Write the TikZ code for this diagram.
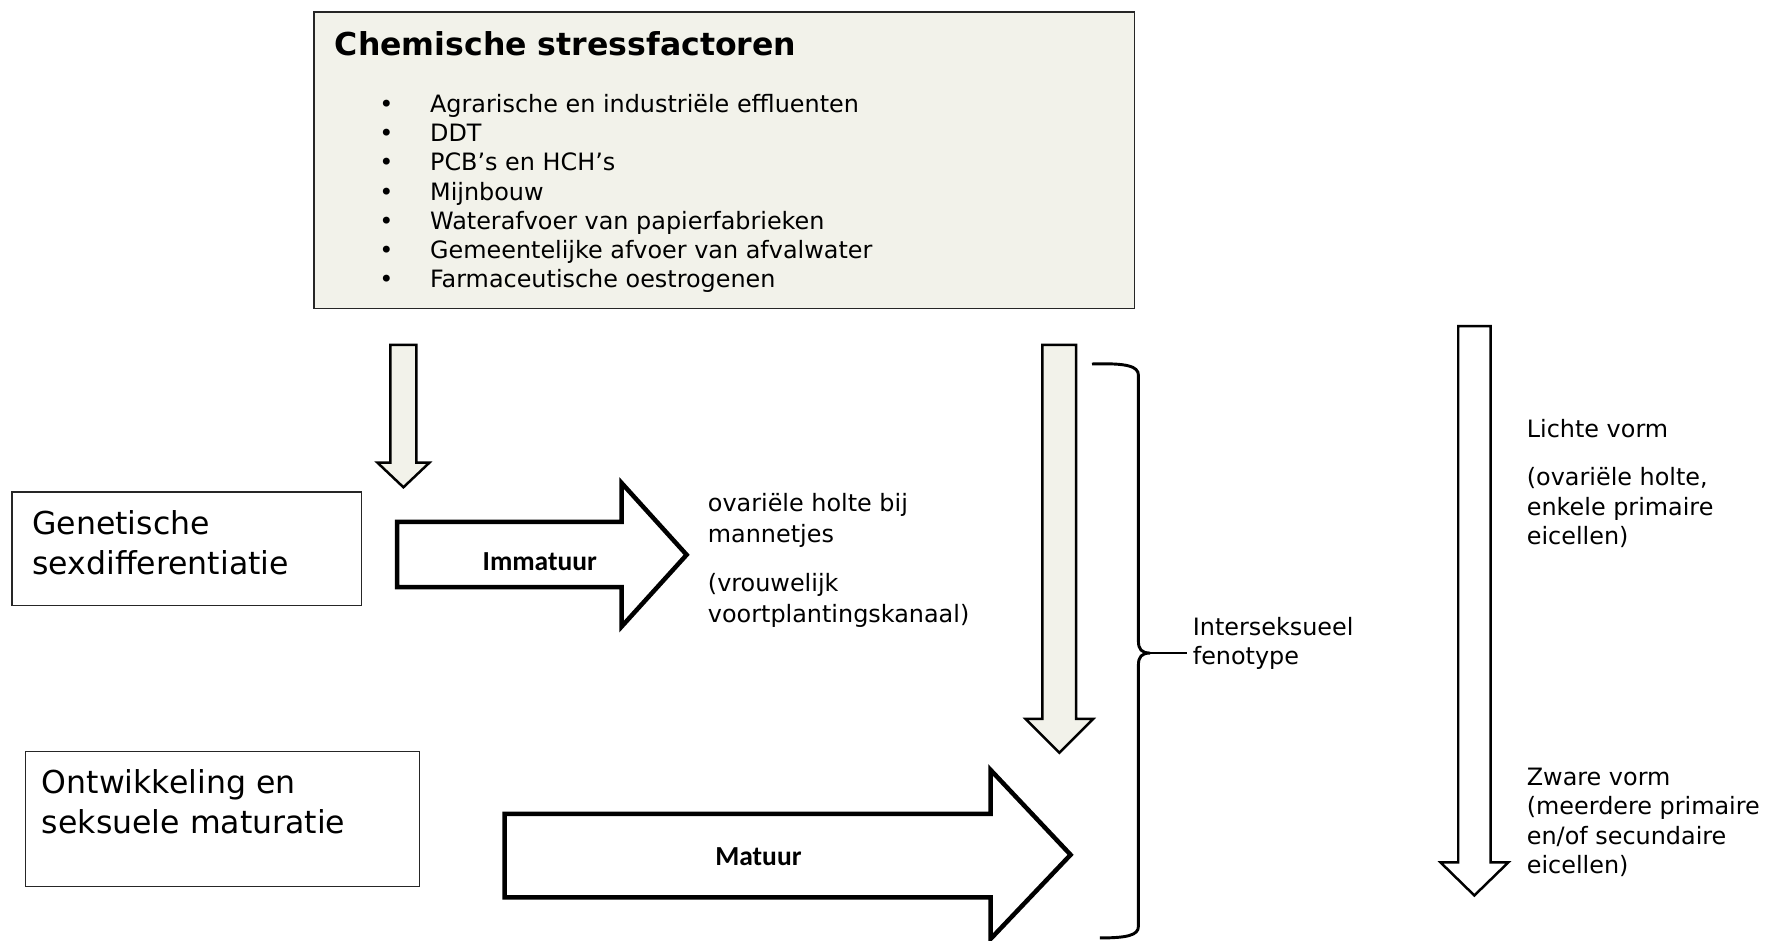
\documentclass[tikz,border=0pt]{standalone}
\usepackage{fontspec}
\setmainfont{DejaVu Sans}
\newfontfamily\carlito{Carlito}
\definecolor{beige}{RGB}{242,242,234}
\begin{document}
\begin{tikzpicture}[x=1pt,y=-1pt,
  box/.style={draw=black!85, line width=1.1pt, inner sep=0pt, anchor=north west},
  txt/.style={anchor=base west, inner sep=0pt, font=\fontsize{21.2}{25}\selectfont},
  bul/.style={anchor=base, inner sep=0pt, font=\fontsize{21.2}{25}\selectfont},
  bigtxt/.style={anchor=base west, inner sep=0pt, font=\fontsize{28}{34}\selectfont},
  lbl/.style={anchor=base, inner sep=0pt, font=\carlito\bfseries\fontsize{24.4}{28}\selectfont},
  beigearrow/.style={draw=black, line width=2.2pt, fill=beige, line join=miter},
  whitearrow/.style={draw=black, line width=2.2pt, fill=white, line join=miter},
  fatarrow/.style={draw=black, line width=4pt, fill=white, line join=miter},
  bracel/.style={draw=black, line width=2.6pt}
]
\useasboundingbox (0,0) rectangle (1568,835);

% top box
\node[box, fill=beige, minimum width=728pt, minimum height=263pt] (chem) at (278,10) {};
\node[anchor=base west, inner sep=0pt, font=\bfseries\fontsize{28}{34}\selectfont] (title) at (297,49) {Chemische stressfactoren};
\foreach \t [count=\i from 0] in {Agrarische en industriële effluenten, DDT, PCB’s en HCH’s, Mijnbouw, Waterafvoer van papierfabrieken, Gemeentelijke afvoer van afvalwater, Farmaceutische oestrogenen} {
  \node[bul] (b\i) at (343, {99.8+25.9*\i}) {•};
  \node[txt] (t\i) at (381.5, {99.8+25.9*\i}) {\t};
}

% left boxes
\node[box, minimum width=310pt, minimum height=101pt] (gen) at (10,436) {};
\node[bigtxt] (gen1) at (28.5,474.7) {Genetische};
\node[bigtxt] (gen2) at (28.5,509.6) {sexdifferentiatie};

\node[box, minimum width=350pt, minimum height=120pt] (ont) at (22,666.4) {};
\node[bigtxt] (ont1) at (37,704.5) {Ontwikkeling en};
\node[bigtxt] (ont2) at (37,740) {seksuele maturatie};

% beige down arrows
\draw[beigearrow] (346.5,306) -- (369.5,306) -- (369.5,410.6) -- (381,410.6) -- (358,432.4) -- (335,410.6) -- (346.5,410.6) -- cycle;
\draw[beigearrow] (925,306) -- (955,306) -- (955,638) -- (970,638) -- (940,668) -- (910,638) -- (925,638) -- cycle;

% white down arrow
\draw[whitearrow] (1294,289.3) -- (1322.7,289.3) -- (1322.7,765.3) -- (1338.4,765.3) -- (1308.3,794.6) -- (1278.3,765.3) -- (1294,765.3) -- cycle;

% fat right arrows
\draw[fatarrow] (352.5,463) -- (551.6,463) -- (551.6,428.6) -- (609.3,492.3) -- (551.6,556) -- (551.6,521) -- (352.5,521) -- cycle;
\node[lbl] (imm) at (479,506) {Immatuur};
\draw[fatarrow] (447.7,722.3) -- (879,722.3) -- (879,683.2) -- (950,758.5) -- (879,833.2) -- (879,796.2) -- (447.7,796.2) -- cycle;
\node[lbl] (mat) at (673,768) {Matuur};

% middle text
\node[txt] (m1) at (628,454) {ovariële holte bij};
\node[txt] (m2) at (628,481) {mannetjes};
\node[txt] (m3) at (628,525) {(vrouwelijk};
\node[txt] (m4) at (628,552) {voortplantingskanaal)};

% brace
\draw[bracel] (969,323) .. controls (1000,322) and (1010.2,325) .. (1010.2,333)
  -- (1010.2,569) .. controls (1010.2,576) and (1013,579.5) .. (1020.4,579.5)
  .. controls (1013,579.5) and (1010.2,583) .. (1010.2,590)
  -- (1010.2,822) .. controls (1010.2,830) and (1000,832.3) .. (976,832.3);
\coordinate (cusp) at (1020.4,579.5);
\coordinate (tickend) at (1053,579.5);
\draw[line width=2.2pt] (cusp) -- (tickend);
\node[txt] (i1) at (1058.3,564) {Interseksueel};
\node[txt] (i2) at (1058.3,590) {fenotype};

% right column
\node[txt] (r1) at (1354.7,388) {Lichte vorm};
\node[txt] (r2) at (1354.7,431) {(ovariële holte,};
\node[txt] (r3) at (1354.7,457) {enkele primaire};
\node[txt] (r4) at (1354.7,483) {eicellen)};
\node[txt] (r5) at (1354.7,697) {Zware vorm};
\node[txt] (r6) at (1354.7,723) {(meerdere primaire};
\node[txt] (r7) at (1354.7,749) {en/of secundaire};
\node[txt] (r8) at (1354.7,775) {eicellen)};
\end{tikzpicture}
\end{document}
